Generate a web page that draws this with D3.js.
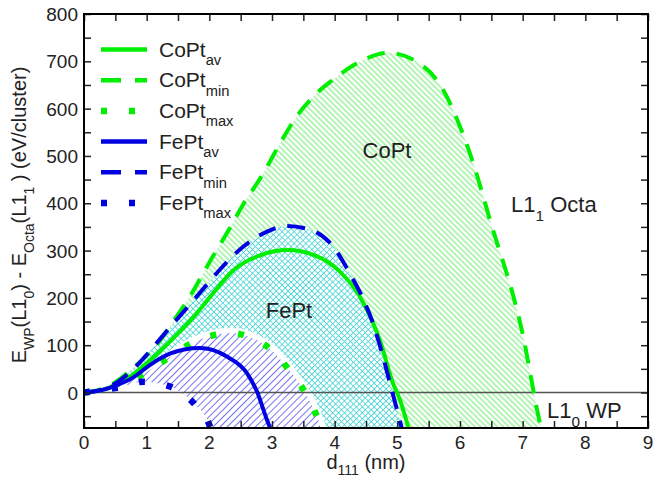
<!DOCTYPE html>
<html>
<head>
<meta charset="utf-8">
<script src="https://cdn.jsdelivr.net/npm/d3@7/dist/d3.min.js"></script>
<style>
  html, body { margin: 0; padding: 0; background: #fff; }
  text { font-family: "Liberation Sans", Arial, Helvetica, sans-serif; fill: #222; }
</style>
</head>
<body>
<svg id="chart" width="666" height="481"></svg>
<script>
// Energy difference between WP (L1_0) and Octa (L1_1) morphologies vs. cluster size d111
const coptAv  = [[0,0],[0.25,4],[0.5,15],[0.75,35],[1,62],[1.25,92],[1.5,125],[1.75,160],[2,200],[2.38,258],[2.81,290],[3.25,301],[3.66,291],[4.08,256],[4.4,203],[4.72,111],[4.93,20],[5.04,-15],[5.2,-85]];
const coptMin = [[0,0],[0.25,6],[0.5,22],[0.73,46],[1,78],[1.16,100],[1.37,140],[1.7,205],[2,275],[2.33,348],[2.52,393],[2.86,463],[3.13,527],[3.39,583],[3.71,632],[4.03,667],[4.4,699],[4.85,718],[5.31,699],[5.73,640],[6.0,562],[6.21,485],[6.5,355],[6.88,189],[7.01,118],[7.12,41],[7.22,-30],[7.31,-85]];
const coptMax = [[0,0],[0.5,13],[0.92,37],[1.29,68],[1.69,102],[2.1,122],[2.35,126],[2.58,120],[2.97,92],[3.27,48],[3.54,-3],[3.73,-56],[3.8,-85]];
const feptAv  = [[0,0],[0.25,4],[0.47,13],[0.79,32],[1.05,58],[1.37,82],[1.6,91],[1.85,94],[2.05,90],[2.28,76],[2.6,41],[2.76,2],[2.92,-58],[3.0,-85]];
const feptMin = [[0,0],[0.25,5],[0.5,19],[0.68,37],[0.9,65],[1.11,97],[1.4,142],[1.69,186],[1.96,228],[2.17,260],[2.54,308],[2.92,340],[3.23,352],[3.61,344],[3.98,308],[4.24,252],[4.46,196],[4.62,143],[4.72,100],[4.91,6],[5.09,-85]];
const feptMax = [[0,0],[0.52,10],[0.96,23],[1.2,19],[1.4,11],[1.76,-24],[2.01,-72],[2.04,-85]];

const xTickValues = [0,1,2,3,4,5,6,7,8,9];
const yTickValues = [0,100,200,300,400,500,600,700,800];
const xDomain = [0, 9];
const yDomain = [-75, 800];

const legendItems = [
  { name: "CoPt", sub: "av",  color: "#00ee00", style: "solid" },
  { name: "CoPt", sub: "min", color: "#00ee00", style: "dash" },
  { name: "CoPt", sub: "max", color: "#00ee00", style: "dot" },
  { name: "FePt", sub: "av",  color: "#0000e0", style: "solid" },
  { name: "FePt", sub: "min", color: "#0000e0", style: "dash" },
  { name: "FePt", sub: "max", color: "#0000e0", style: "dot" }
];

const GREEN = "#00ee00", BLUE = "#0000e0";
const W = 666, H = 481;
const m = { left: 84, right: 18, top: 14, bottom: 53 };
const pw = W - m.left - m.right, ph = H - m.top - m.bottom;

const svg = d3.select("#chart");
const x = d3.scaleLinear().domain(xDomain).range([m.left, m.left + pw]);
const y = d3.scaleLinear().domain(yDomain).range([m.top + ph, m.top]);

const defs = svg.append("defs");
defs.append("clipPath").attr("id", "plotClip")
  .append("rect").attr("x", m.left).attr("y", m.top).attr("width", pw).attr("height", ph);

function hatch(id, color, spacing, angles, width) {
  const p = defs.append("pattern").attr("id", id)
    .attr("patternUnits", "userSpaceOnUse")
    .attr("width", spacing).attr("height", spacing);
  p.append("rect").attr("width", spacing).attr("height", spacing).attr("fill", "#fff");
  if (angles.length === 1) {
    p.attr("patternTransform", `rotate(${angles[0]})`);
    p.append("line").attr("x1", spacing / 2).attr("x2", spacing / 2).attr("y1", 0).attr("y2", spacing)
      .attr("stroke", color).attr("stroke-width", width);
  } else {
    p.attr("patternTransform", "rotate(45)");
    p.append("line").attr("x1", spacing / 2).attr("x2", spacing / 2).attr("y1", 0).attr("y2", spacing)
      .attr("stroke", color).attr("stroke-width", width);
    p.append("line").attr("y1", spacing / 2).attr("y2", spacing / 2).attr("x1", 0).attr("x2", spacing)
      .attr("stroke", color).attr("stroke-width", width);
  }
}
hatch("hGreen", "#55e855", 4, [-45], 0.9);
hatch("hCyan", "#45d4d4", 4.2, [45, -45], 0.8);
hatch("hBlue", "#6464f0", 5, [45], 0.9);

const plot = svg.append("g").attr("clip-path", "url(#plotClip)");
const curve = d3.curveMonotoneX;
const area = d3.area().x(d => x(d[0])).y0(y(yDomain[0]) + 5).y1(d => y(d[1])).curve(curve);
const line = d3.line().x(d => x(d[0])).y(d => y(d[1])).curve(curve);

// shaded stability regions
plot.append("path").datum(coptMin).attr("d", area).attr("fill", "url(#hGreen)");
plot.append("path").datum(feptMin).attr("d", area).attr("fill", "url(#hCyan)");
plot.append("path").datum(coptMax).attr("d", line).attr("fill", "none").attr("stroke", "#fff").attr("stroke-width", 11);
plot.append("path").datum(coptMax).attr("d", area).attr("fill", "url(#hBlue)");
plot.append("path").datum(feptMax).attr("d", area).attr("fill", "#fff");

// zero reference line
plot.append("line").attr("x1", m.left).attr("x2", m.left + pw)
  .attr("y1", y(0)).attr("y2", y(0)).attr("stroke", "#555").attr("stroke-width", 1.5);

const dashes = { solid: null, dash: "18,12", dot: "6,22" };
function drawCurve(data, color, style) {
  plot.append("path").datum(data).attr("d", line)
    .attr("fill", "none").attr("stroke", color)
    .attr("stroke-width", style === "dot" ? 6.5 : 4)
    .attr("stroke-dasharray", dashes[style]);
}
drawCurve(coptMin, GREEN, "dash");
drawCurve(coptAv, GREEN, "solid");
drawCurve(coptMax, GREEN, "dot");
drawCurve(feptMin, BLUE, "dash");
drawCurve(feptAv, BLUE, "solid");
drawCurve(feptMax, BLUE, "dot");

// frame and inward ticks on all sides
const tickLen = 7;
const axes = svg.append("g");
const xb = d3.axisBottom(x).tickValues(d3.range(0, 9.01, 0.5)).tickSize(-tickLen).tickFormat("");
const xt = d3.axisTop(x).tickValues(d3.range(0, 9.01, 0.5)).tickSize(-tickLen).tickFormat("");
const yl = d3.axisLeft(y).tickValues(d3.range(-50, 801, 50)).tickSize(-tickLen).tickFormat("");
const yr = d3.axisRight(y).tickValues(d3.range(-50, 801, 50)).tickSize(-tickLen).tickFormat("");
axes.append("g").attr("transform", `translate(0,${m.top + ph})`).call(xb);
axes.append("g").attr("transform", `translate(0,${m.top})`).call(xt);
axes.append("g").attr("transform", `translate(${m.left},0)`).call(yl);
axes.append("g").attr("transform", `translate(${m.left + pw},0)`).call(yr);
axes.selectAll(".domain").remove();
axes.selectAll(".tick line").attr("stroke", "#222").attr("stroke-width", 1.5);
svg.append("rect").attr("x", m.left).attr("y", m.top).attr("width", pw).attr("height", ph)
  .attr("fill", "none").attr("stroke", "#000").attr("stroke-width", 2);

// tick labels
const tl = svg.append("g").attr("font-size", 19);
tl.selectAll(".xl").data(xTickValues).join("text")
  .attr("x", d => x(d)).attr("y", m.top + ph + 21).attr("text-anchor", "middle").text(d => d);
tl.selectAll(".yl").data(yTickValues).join("text")
  .attr("x", m.left - 6).attr("y", d => y(d) + 7).attr("text-anchor", "end").text(d => d);

// text with subscripts
function rich(g, parts, size, shift) {
  const dy = shift == null ? size * 0.4 : shift;
  const t = g.append("text").attr("font-size", size);
  let shifted = false;
  parts.forEach(p => {
    const s = t.append("tspan").text(p[0]);
    if (p[1] && !shifted) { s.attr("font-size", size * 0.7).attr("dy", dy); shifted = true; }
    else if (!p[1] && shifted) { s.attr("dy", -dy); shifted = false; }
    else if (p[1]) s.attr("font-size", size * 0.7);
  });
  return t;
}

rich(svg, [["d"], ["111", 1], [" (nm)"]], 20, 6)
  .attr("x", x(4.5)).attr("y", H - 12).attr("text-anchor", "middle");

rich(svg.append("g").attr("transform", `translate(26,${m.top + ph / 2 - 6}) rotate(-90)`),
  [["E"], ["WP", 1], ["(L1"], ["0", 1], [") - E"], ["Octa", 1], ["(L1"], ["1", 1], [" ) (eV/cluster)"]], 20)
  .attr("text-anchor", "middle");

// region annotations
rich(svg, [["CoPt"]], 22).attr("x", 387).attr("y", 158).attr("text-anchor", "middle");
rich(svg, [["FePt"]], 22).attr("x", 289).attr("y", 318).attr("text-anchor", "middle");
rich(svg, [["L1"], ["1", 1], [" Octa"]], 22).attr("x", 511).attr("y", 212);
rich(svg, [["L1"], ["0", 1], [" WP"]], 22).attr("x", 547).attr("y", 418);

// legend
const lg = svg.append("g");
legendItems.forEach((d, i) => {
  const yy = 49.5 + i * 30.7;
  lg.append("line").attr("x1", 101).attr("x2", 147).attr("y1", yy).attr("y2", yy)
    .attr("stroke", d.color)
    .attr("stroke-width", d.style === "dot" ? 6.5 : 4.5)
    .attr("stroke-dasharray", d.style === "dash" ? "20,14" : d.style === "dot" ? "6,22" : null);
  rich(lg, [[d.name], [d.sub, 1]], 21).attr("x", 159).attr("y", yy + 7);
});
</script>
</body>
</html>
